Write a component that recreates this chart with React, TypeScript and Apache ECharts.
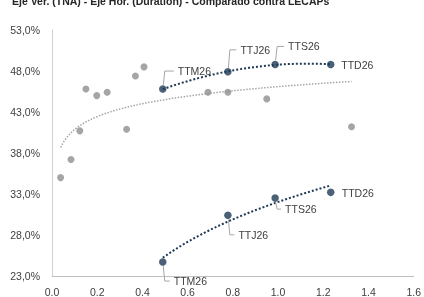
import React, { useEffect, useRef } from "react";
import * as echarts from "echarts";

const titleText = "Eje Ver. (TNA) - Eje Hor. (Duration) - Comparado contra LECAPs";
const xTicks = [0, 0.2, 0.4, 0.6, 0.8, 1.0, 1.2, 1.4, 1.6];
const yTicks = [23, 28, 33, 38, 43, 48, 53];

const lecapDuration = [0.038, 0.084, 0.123, 0.15, 0.198, 0.244, 0.33, 0.369, 0.407, 0.69, 0.778, 0.95, 1.325];
const lecapTna = [35.0, 37.2, 40.7, 45.8, 45.0, 45.4, 40.9, 47.4, 48.5, 45.4, 45.4, 44.6, 41.2];

const bondNames = ["TTM26", "TTJ26", "TTS26", "TTD26"];
const bondDuration = [0.49, 0.778, 0.987, 1.233];
const upperTna = [45.8, 47.9, 48.8, 48.8];
const lowerTna = [24.7, 30.4, 32.5, 33.2];

// label placement (pixel offsets from point), layout only
const upperLabelOffset = [[15, -18], [12.5, -22], [13, -18], [10.5, 0.5]];
const lowerLabelOffset = [[11, 19], [10.5, 19.5], [10, 11], [11, 0.7]];
const upperLeader = [true, true, true, false];
const lowerLeader = [true, true, true, false];

function logFit(xs: number[], ys: number[]) {
  const lx = xs.map((x) => Math.log(x));
  const n = xs.length;
  const mx = lx.reduce((s, v) => s + v, 0) / n;
  const my = ys.reduce((s, v) => s + v, 0) / n;
  let sxy = 0, sxx = 0;
  for (let i = 0; i < n; i++) {
    sxy += (lx[i] - mx) * (ys[i] - my);
    sxx += (lx[i] - mx) ** 2;
  }
  const b = sxy / sxx;
  const a = my - b * mx;
  return (x: number) => a + b * Math.log(x);
}

function polyFit2(xs: number[], ys: number[]) {
  const S = [0, 0, 0, 0, 0];
  const T = [0, 0, 0];
  for (let i = 0; i < xs.length; i++) {
    for (let k = 0; k < 5; k++) S[k] += xs[i] ** k;
    for (let k = 0; k < 3; k++) T[k] += ys[i] * xs[i] ** k;
  }
  const M = [
    [S[0], S[1], S[2], T[0]],
    [S[1], S[2], S[3], T[1]],
    [S[2], S[3], S[4], T[2]],
  ];
  for (let c = 0; c < 3; c++) {
    let p = c;
    for (let r = c + 1; r < 3; r++) if (Math.abs(M[r][c]) > Math.abs(M[p][c])) p = r;
    [M[c], M[p]] = [M[p], M[c]];
    for (let r = 0; r < 3; r++) {
      if (r === c) continue;
      const f = M[r][c] / M[c][c];
      for (let k = c; k < 4; k++) M[r][k] -= f * M[c][k];
    }
  }
  const c0 = M[0][3] / M[0][0], c1 = M[1][3] / M[1][1], c2 = M[2][3] / M[2][2];
  return (x: number) => c0 + c1 * x + c2 * x * x;
}

function curve(fn: (x: number) => number, xs: number[]) {
  const lo = Math.min(...xs), hi = Math.max(...xs);
  const pts: number[][] = [];
  const N = 80;
  for (let i = 0; i <= N; i++) {
    const x = lo + ((hi - lo) * i) / N;
    pts.push([x, fn(x)]);
  }
  return pts;
}

const DARK = "#1e3a55";
const GRAY = "#8e8e8e";
const FONT = "'Liberation Sans', Arial, sans-serif";

export default function App() {
  const ref = useRef<HTMLDivElement>(null);
  useEffect(() => {
    const chart = echarts.init(ref.current!, null, { renderer: "svg" });
    const grayTrend = curve(logFit(lecapDuration, lecapTna), lecapDuration);
    const upperTrend = curve(polyFit2(bondDuration, upperTna), bondDuration);
    const lowerTrend = curve(logFit(bondDuration, lowerTna), bondDuration);

    chart.setOption({
      animation: false,
      textStyle: { fontFamily: FONT },
      grid: { left: 52, right: 9, top: 30, bottom: 20, containLabel: false },
      xAxis: {
        type: "value",
        min: xTicks[0],
        max: xTicks[xTicks.length - 1],
        interval: 0.2,
        axisLine: { show: true, lineStyle: { color: "#bfbfbf", width: 1 } },
        axisTick: { show: false },
        splitLine: { show: false },
        axisLabel: { color: "#404040", fontSize: 10.5, margin: 10, formatter: (v: number) => v.toFixed(1) },
      },
      yAxis: {
        type: "value",
        min: yTicks[0],
        max: yTicks[yTicks.length - 1],
        axisLine: { show: true, lineStyle: { color: "#d0d0d0", width: 1 } },
        axisTick: { show: false },
        splitLine: { show: false },
        axisLabel: {
          color: "#404040",
          fontSize: 10.5,
          margin: 12,
          customValues: yTicks,
          formatter: (v: number) => v.toFixed(1).replace(".", ",") + "%",
        },
      },
      series: [
        { type: "line", data: grayTrend, showSymbol: false, silent: true, lineStyle: { color: "#a6a6a6", width: 1.5, type: "dotted" }, z: 1 },
        { type: "line", data: upperTrend, showSymbol: false, silent: true, lineStyle: { color: DARK, width: 2, type: "dotted" }, z: 1 },
        { type: "line", data: lowerTrend, showSymbol: false, silent: true, lineStyle: { color: DARK, width: 2, type: "dotted" }, z: 1 },
        { type: "scatter", data: lecapDuration.map((x, i) => [x, lecapTna[i]]), symbolSize: 7, itemStyle: { color: GRAY }, z: 3 },
        { type: "scatter", data: bondDuration.map((x, i) => [x, upperTna[i]]), symbolSize: 7.5, itemStyle: { color: DARK }, z: 4 },
        { type: "scatter", data: bondDuration.map((x, i) => [x, lowerTna[i]]), symbolSize: 7.5, itemStyle: { color: DARK }, z: 4 },
      ],
    });

    const graphics: any[] = [
      {
        type: "text",
        left: 12,
        top: -5,
        style: { text: titleText, font: `bold 10.5px ${FONT}`, fill: "#262626" },
      },
    ];
    const addLabels = (tna: number[], offs: number[][], leader: boolean[], below: boolean) => {
      bondDuration.forEach((x, i) => {
        const p = chart.convertToPixel({ gridIndex: 0 }, [x, tna[i]]) as number[];
        const [ox, oy] = offs[i];
        graphics.push({
          type: "text",
          x: p[0] + ox,
          y: p[1] + oy,
          style: { text: bondNames[i], font: `10.5px ${FONT}`, fill: "#404040", textAlign: "left", textVerticalAlign: "middle" },
          z: 10,
        });
        if (leader[i]) {
          graphics.push({
            type: "polyline",
            shape: {
              points: [
                [p[0] + 0.5, p[1] + (below ? 4 : -4)],
                [p[0] + 2, p[1] + oy],
                [p[0] + ox - 4, p[1] + oy],
              ],
            },
            style: { stroke: "#a6a6a6", lineWidth: 1, fill: "none" },
            z: 9,
          });
        }
      });
    };
    addLabels(upperTna, upperLabelOffset, upperLeader, false);
    addLabels(lowerTna, lowerLabelOffset, lowerLeader, true);
    chart.setOption({ graphic: graphics });

    return () => chart.dispose();
  }, []);
  return <div ref={ref} style={{ position: "fixed", left: 0, top: 0, width: 424, height: 297 }} />;
}
